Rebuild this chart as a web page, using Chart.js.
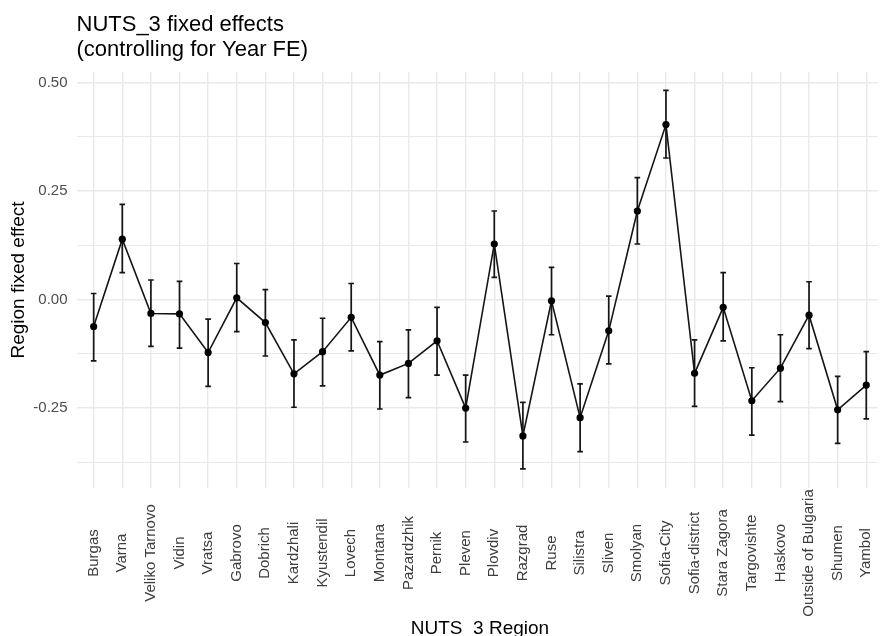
<!DOCTYPE html>
<html>
<head>
<meta charset="utf-8">
<title>NUTS_3 fixed effects</title>
<script src="https://cdn.jsdelivr.net/npm/chart.js@4.4.1/dist/chart.umd.min.js"></script>
<style>
  html, body { margin: 0; padding: 0; background: #fff; }
</style>
</head>
<body>
<canvas id="myChart" width="882" height="636"></canvas>
<script>
// Data

const regions = ['Burgas', 'Varna', 'Veliko Tarnovo', 'Vidin', 'Vratsa', 'Gabrovo', 'Dobrich',
  'Kardzhali', 'Kyustendil', 'Lovech', 'Montana', 'Pazardzhik', 'Pernik', 'Pleven', 'Plovdiv',
  'Razgrad', 'Ruse', 'Silistra', 'Sliven', 'Smolyan', 'Sofia-City', 'Sofia-district',
  'Stara Zagora', 'Targovishte', 'Haskovo', 'Outside of Bulgaria', 'Shumen', 'Yambol'];

const effects = [-0.062, 0.139, -0.032, -0.033, -0.122, 0.004, -0.053,
  -0.171, -0.120, -0.041, -0.174, -0.147, -0.095, -0.250, 0.128,
  -0.314, -0.003, -0.272, -0.072, 0.204, 0.403, -0.170,
  -0.018, -0.233, -0.158, -0.036, -0.254, -0.197];

const lower = [-0.141, 0.062, -0.108, -0.112, -0.200, -0.074, -0.130,
  -0.248, -0.199, -0.118, -0.252, -0.226, -0.174, -0.328, 0.051,
  -0.390, -0.081, -0.350, -0.148, 0.128, 0.326, -0.246,
  -0.095, -0.312, -0.235, -0.113, -0.331, -0.275];

const upper = [0.014, 0.219, 0.045, 0.042, -0.045, 0.083, 0.023,
  -0.093, -0.043, 0.037, -0.097, -0.070, -0.018, -0.174, 0.204,
  -0.237, 0.074, -0.194, 0.008, 0.281, 0.482, -0.093,
  0.062, -0.157, -0.081, 0.041, -0.177, -0.120];

const yMajor = [-0.25, 0, 0.25, 0.5];
const yMinor = [-0.375, -0.125, 0.125, 0.375];

const FONT = '"Liberation Sans", Arial, sans-serif';

// error bars, drawn through the scales
const errorBars = {
  id: 'errorBars',
  beforeDatasetsDraw(chart) {
    const {ctx, scales: {x, y}} = chart;
    ctx.save();
    ctx.strokeStyle = '#151515';
    ctx.lineWidth = 1.7;
    effects.forEach((v, i) => {
      const px = x.getPixelForValue(i);
      const top = y.getPixelForValue(upper[i]);
      const bot = y.getPixelForValue(lower[i]);
      ctx.beginPath();
      ctx.moveTo(px, top); ctx.lineTo(px, bot);
      ctx.moveTo(px - 2.8, top); ctx.lineTo(px + 2.8, top);
      ctx.moveTo(px - 2.8, bot); ctx.lineTo(px + 2.8, bot);
      ctx.stroke();
    });
    ctx.restore();
  }
};

// x labels centred under each region (ggplot style), plus the axis title
const regionLabels = {
  id: 'regionLabels',
  afterDraw(chart) {
    const {ctx, scales: {x}, chartArea} = chart;
    ctx.save();
    ctx.fillStyle = '#3d3d3d';
    ctx.font = '15px ' + FONT;
    ctx.textAlign = 'center';
    ctx.textBaseline = 'middle';
    regions.forEach((r, i) => {
      ctx.save();
      ctx.translate(x.getPixelForValue(i), chartArea.bottom + 65);
      ctx.rotate(-Math.PI / 2);
      ctx.fillText(r, 0, 0);
      ctx.restore();
    });
    ctx.fillStyle = '#000';
    ctx.font = '19px ' + FONT;
    ctx.textBaseline = 'alphabetic';
    ctx.fillText('NUTS_3 Region', x.getPixelForValue((regions.length - 1) / 2), 633.5);
    ctx.restore();
  }
};

const config = {
  type: 'line',
  data: {
    datasets: [{
      data: effects.map((v, i) => ({x: i, y: v})),
      borderColor: '#151515',
      borderWidth: 1.6,
      pointRadius: 3.6,
      pointBackgroundColor: '#000',
      pointBorderWidth: 0,
      tension: 0
    }]
  },
  options: {
    responsive: false,
    animation: false,
    layout: { padding: 0 },
    scales: {
      x: {
        type: 'linear',
        min: -0.6,
        max: 27.41,
        afterBuildTicks: s => { s.ticks = regions.map((r, i) => ({value: i})); },
        afterFit: s => { s.height = 148; },
        grid: { color: '#e9e9e9', lineWidth: 1.4, drawTicks: false },
        border: { display: false },
        ticks: { display: false }
      },
      y: {
        min: -0.434,
        max: 0.524,
        afterBuildTicks: s => {
          s.ticks = yMajor.concat(yMinor).sort((a, b) => a - b).map(v => ({value: v}));
        },
        afterFit: s => { s.width = 76.5; },
        grid: {
          color: '#e9e9e9',
          lineWidth: c => yMajor.includes(c.tick.value) ? 1.4 : 1,
          drawTicks: false
        },
        border: { display: false },
        ticks: {
          padding: 9,
          color: '#4d4d4d',
          font: { family: FONT, size: 15 },
          callback: v => yMajor.includes(v) ? v.toFixed(2) : ''
        },
        title: {
          display: true,
          text: 'Region fixed effect',
          color: '#000',
          font: { family: FONT, size: 19 },
          padding: { top: 7, bottom: 0 }
        }
      }
    },
    plugins: {
      legend: { display: false },
      tooltip: { enabled: false },
      title: {
        display: true,
        text: ['NUTS_3 fixed effects', '(controlling for Year FE)'],
        align: 'start',
        fullSize: false,
        color: '#000',
        font: { family: FONT, size: 22, weight: 'normal', lineHeight: 1.16 },
        padding: { top: 12, bottom: 9 }
      }
    }
  },
  plugins: [errorBars, regionLabels]
};

var myChart = new Chart(document.getElementById('myChart'), config);
</script>
</body>
</html>
